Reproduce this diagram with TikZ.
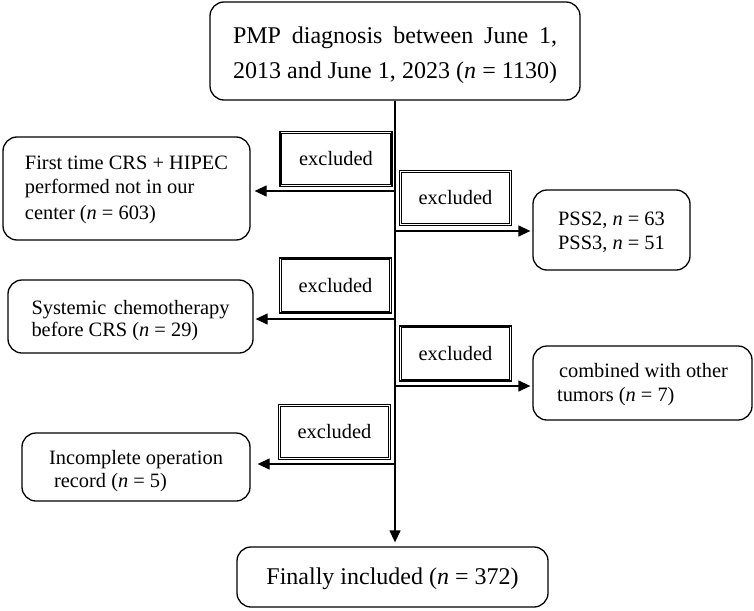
\documentclass[tikz,border=0pt]{standalone}
\usepackage{fontspec}
\setmainfont{Liberation Serif}
\usetikzlibrary{arrows.meta}
\newcommand{\dn}[2]{\raisebox{-#1}[\height][\depth]{#2}}
\begin{document}
\begin{tikzpicture}[x=1pt,y=-1pt,
  rbox/.style={draw,line width=1.3pt,rounded corners=14pt,inner sep=0pt},
  exbox/.style={draw,line width=1.1pt,inner sep=0pt,
    minimum width=112pt,minimum height=55pt,font=\fontsize{20.4}{24}\selectfont},
  exinner/.style={draw,line width=0.8pt},
  small/.style={font=\fontsize{20.4}{24}\selectfont,align=left},
  big/.style={font=\fontsize{24}{35}\selectfont,align=center},
  arr/.style={line width=1.3pt,-{Triangle[length=12pt,width=11pt]}}]
\useasboundingbox (0,0) rectangle (754,610);
% main boxes
\node[rbox,big,minimum width=370pt,minimum height=98pt] (top) at (395,51)
  {\dn{4pt}{\makebox[324pt][s]{PMP diagnosis between June 1,}}\\
   \dn{4pt}{\makebox[324pt][s]{2013 and June 1, 2023 (\textit{n} = 1130)}}};
\node[rbox,big,minimum width=311pt,minimum height=60pt] (final) at (392.5,577)
  {\dn{2pt}{Finally included (\textit{n} = 372)}};
% left boxes
\node[rbox,small,minimum width=247pt,minimum height=103pt] (left1) at (126.5,188.5)
  {First time CRS + HIPEC\\performed not in our\\\dn{2pt}{center (\textit{n} = 603)}};
\node[rbox,small,minimum width=245pt,minimum height=73pt,font=\fontsize{20.4}{22}\selectfont] (left2) at (130.5,316.5)
  {\dn{4pt}{\makebox[198pt][s]{Systemic chemotherapy}}\\\dn{4pt}{before CRS (\textit{n} = 29)}};
\node[rbox,small,minimum width=228pt,minimum height=68pt,font=\fontsize{20.4}{23}\selectfont] (left3) at (136,467)
  {\dn{4pt}{Incomplete operation}\\\dn{4pt}{\hspace*{5pt}record (\textit{n} = 5)}};
% right boxes
\node[rbox,small,minimum width=157pt,minimum height=80pt] (right1) at (611.5,230)
  {\dn{2pt}{PSS2, \textit{n} = 63}\\\dn{2pt}{PSS3, \textit{n} = 51}};
\node[rbox,small,minimum width=219pt,minimum height=74pt] (right2) at (642.5,383)
  {\dn{2pt}{\hspace*{2pt}combined with other}\\\dn{2pt}{tumors (\textit{n} = 7)}};
% excluded boxes
\node[exbox] (ex1) at (336,159) {excluded};
\node[exbox] (ex2) at (455.5,198) {excluded};
\node[exbox] (ex3) at (335.5,285.5) {excluded};
\node[exbox] (ex4) at (455.5,353.5) {excluded};
\node[exbox] (ex5) at (334.5,432) {excluded};
\foreach \e in {ex1,ex2,ex3,ex4,ex5}
  \draw[exinner] ([xshift=2.3pt,yshift=2.3pt]\e.south west) rectangle ([xshift=-2.3pt,yshift=-2.3pt]\e.north east);
% junctions on main line
\coordinate (j1) at (395,191);
\coordinate (j2) at (395,231);
\coordinate (j3) at (395,319);
\coordinate (j4) at (395,386);
\coordinate (j5) at (395,464);
% connectors
\draw[arr,shorten >=4pt] (top.south) -- (top.south |- final.north);
\draw[arr,shorten >=4pt] (j1) -- (j1 -| left1.east);
\draw[arr,shorten >=2pt] (j2) -- (j2 -| right1.west);
\draw[arr,shorten >=2pt] (j3) -- (j3 -| left2.east);
\draw[arr,shorten >=2pt] (j4) -- (j4 -| right2.west);
\draw[arr,shorten >=7pt] (j5) -- (j5 -| left3.east);
\end{tikzpicture}
\end{document}
